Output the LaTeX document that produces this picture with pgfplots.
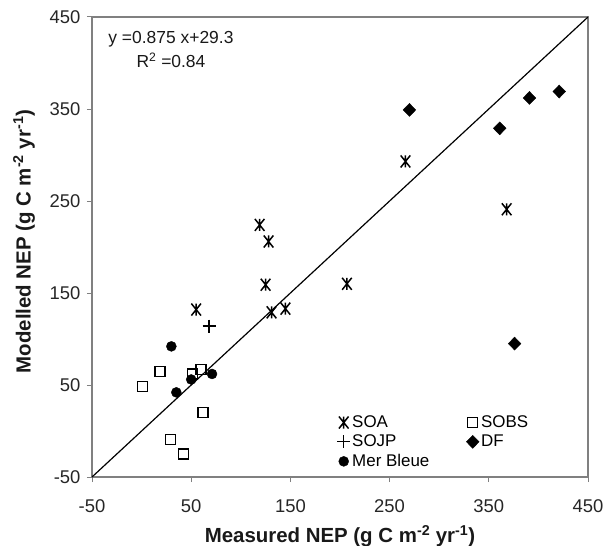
\documentclass[border=0pt]{standalone}
\usepackage{fontspec}
\setmainfont{Liberation Sans}
\usepackage{pgfplots}
\pgfplotsset{compat=1.18}

\pgfdeclareplotmark{xstar}{%
  \pgfpathmoveto{\pgfqpoint{-0.8\pgfplotmarksize}{-\pgfplotmarksize}}%
  \pgfpathlineto{\pgfqpoint{0.8\pgfplotmarksize}{\pgfplotmarksize}}%
  \pgfpathmoveto{\pgfqpoint{-0.8\pgfplotmarksize}{\pgfplotmarksize}}%
  \pgfpathlineto{\pgfqpoint{0.8\pgfplotmarksize}{-\pgfplotmarksize}}%
  \pgfpathmoveto{\pgfqpoint{0pt}{-\pgfplotmarksize}}%
  \pgfpathlineto{\pgfqpoint{0pt}{\pgfplotmarksize}}%
  \pgfusepathqstroke
}

\begin{document}
\begin{tikzpicture}
\begin{axis}[
  scale only axis,
  width=496bp, height=460bp,
  xmin=-50, xmax=450, ymin=-50, ymax=450,
  xtick={-50,50,150,250,350,450},
  ytick={-50,50,150,250,350,450},
  axis line style={black!50, line width=1.2pt},
  tick style={black!50, line width=1pt},
  tick align=outside, tick pos=left,
  major tick length=5bp,
  /pgf/number format/assume math mode=true,
  ticklabel style={font=\fontsize{18.5}{20}\selectfont, text=black!85},
  xticklabel style={yshift=-14bp},
  yticklabel style={xshift=-3bp},
  xlabel={Measured NEP (g C m\textsuperscript{-2} yr\textsuperscript{-1})},
  ylabel={Modelled NEP (g C m\textsuperscript{-2} yr\textsuperscript{-1})},
  label style={font=\bfseries\fontsize{20.5}{22}\selectfont, text=black!90},
  xlabel style={at={(axis description cs:0.5,0)}, anchor=center, yshift=-59bp},
  ylabel style={at={(axis description cs:-0.137,0.512)}, anchor=center},
  legend columns=2,
  legend cell align=left,
  legend image code/.code={\draw[mark repeat=2,mark phase=2,#1] plot coordinates {(0cm,0cm) (0.1cm,0cm) (0.2cm,0cm)};},
  legend style={draw=none, fill=none, font=\fontsize{17}{20}\selectfont,
    at={(axis cs:194,21)}, anchor=north west,
    /tikz/every even column/.append style={column sep=35bp},
    row sep=2bp},
]
\coordinate (SW) at (rel axis cs:0,0);
\coordinate (NE) at (rel axis cs:1,1);

\addplot[black, line width=1.2pt, forget plot] coordinates {(-50,-50) (450,450)};

\addplot[only marks, mark=xstar, mark size=6bp, black, line width=1.5pt] coordinates {
(55,132) (119,224) (128,206) (125,159) (131,129) (145,133) (207,160) (266,293) (368,241)
};
\addlegendentry{SOA}
\addplot[only marks, mark=square, mark size=5bp, black, line width=1.3pt] coordinates {
(1,48) (18.5,64.5) (51,62) (60,67) (62,20) (29,-9) (42,-25)
};
\addlegendentry{SOBS}
\addplot[only marks, mark=+, mark size=6.5bp, black, line width=1.3pt] coordinates {
(68,114)
};
\addlegendentry{SOJP}
\addplot[only marks, mark=diamond*, mark size=6.5bp, black, mark options={xscale=1.3}] coordinates {
(270,349) (361,329) (391,362) (421,369) (376,95)
};
\addlegendentry{DF}
\addplot[only marks, mark=*, mark size=5bp, black] coordinates {
(30,92) (35,42) (50,56) (71,62)
};
\addlegendentry{Mer Bleue}

\node[align=center, font=\fontsize{17.5}{25}\selectfont, text=black!90] at (axis cs:29.6,414.7)
  {y =0.875 x+29.3\\R\textsuperscript{2} =0.84};
\end{axis}
\pgfresetboundingbox
\path ([shift={(-92bp,-69bp)}]SW) rectangle ([shift={(16bp,17bp)}]NE);
\end{tikzpicture}
\end{document}
